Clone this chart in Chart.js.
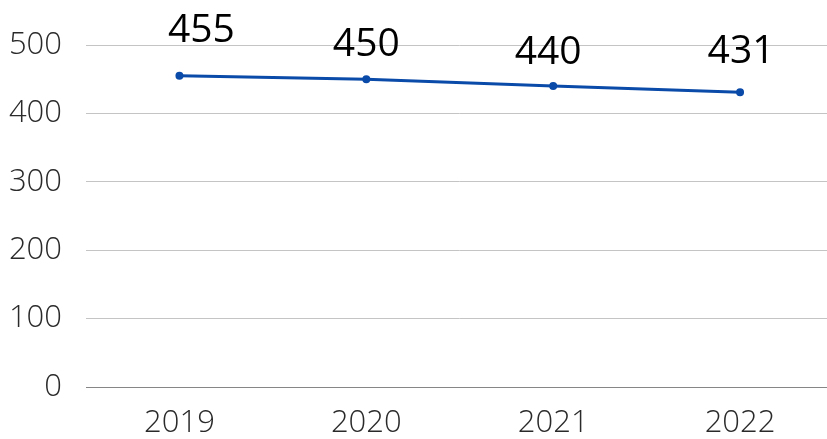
<!DOCTYPE html>
<html lang="en">
  <head>
    <meta charset="UTF-8" />
    <title>Yearly totals 2019-2022</title>
    <script src="https://cdn.jsdelivr.net/npm/chart.js@4"></script>
    <style>
      html, body { margin: 0; padding: 0; background: #fff; overflow: hidden; }
      #wrap { width: 839px; height: 439px; }
    </style>
  </head>
  <body>
    <div id="wrap"><canvas id="myChart"></canvas></div>

    <script>
      const years = ['2019', '2020', '2021', '2022'];
      const totals = [455, 450, 440, 431];
      const yTicks = [0, 100, 200, 300, 400, 500];

      // draws the value above every point; each label gets its own nudge
      const valueLabels = {
        id: 'valueLabels',
        afterDatasetsDraw(chart, args, opts) {
          const ctx = chart.ctx;
          const meta = chart.getDatasetMeta(0);
          ctx.save();
          ctx.font = '39px "Open Sans", sans-serif';
          ctx.fillStyle = '#000';
          ctx.textAlign = 'center';
          ctx.textBaseline = 'alphabetic';
          meta.data.forEach((pt, i) => {
            const dx = opts.dx[i] || 0;
            const dy = opts.dy[i] || 0;
            ctx.fillText(String(totals[i]), pt.x + dx, pt.y + dy + 14);
          });
          ctx.restore();
        }
      };

      const tickFont = { family: '"Open Sans", sans-serif', size: 31, weight: 300 };

      const ctx = document.getElementById('myChart').getContext('2d');
      new Chart(ctx, {
        type: 'line',
        data: {
          labels: years,
          datasets: [{
            data: totals,
            borderColor: '#0a4aa8',
            backgroundColor: '#0a4aa8',
            borderWidth: 3,
            pointRadius: 2.5,
            pointHoverRadius: 2.5,
            fill: false,
            tension: 0
          }]
        },
        options: {
          responsive: true,
          maintainAspectRatio: false,
          animation: false,
          layout: { padding: { top: 45, left: 0, right: 0, bottom: 0 } },
          plugins: {
            legend: { display: false },
            tooltip: { enabled: false },
            valueLabels: { dx: [22, 0, -5, 1], dy: [-48, -37, -36, -43] }
          },
          scales: {
            x: {
              offset: true,
              afterFit(scale) { scale.height = 52; },
              grid: { display: false, drawTicks: false },
              border: { color: '#868686', width: 1 },
              ticks: { color: '#2a2a2a', padding: 18, font: tickFont }
            },
            y: {
              min: 0,
              max: 500,
              afterFit(scale) { scale.width = 86; },
              afterBuildTicks(axis) { axis.ticks = yTicks.map(v => ({ value: v })); },
              grid: { color: '#c4c4c4', drawTicks: false },
              border: { display: false },
              ticks: { color: '#2a2a2a', padding: 24, font: tickFont }
            }
          }
        },
        plugins: [valueLabels]
      });
    </script>
  </body>
</html>
